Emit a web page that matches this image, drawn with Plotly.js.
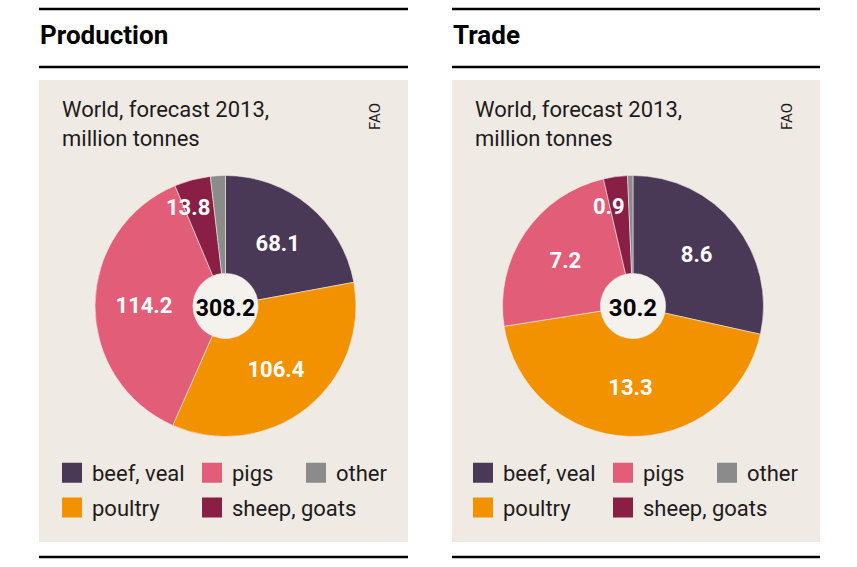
<!DOCTYPE html>
<html><head><meta charset="utf-8">
<script src="https://cdn.plot.ly/plotly-3.0.1.min.js"></script>
<style>html,body{margin:0;padding:0;background:#fff}#chart{width:857px;height:567px}</style>
</head><body><div id="chart"></div>
<script>
// ---- data ----
const categories = ['beef, veal', 'poultry', 'pigs', 'sheep, goats', 'other'];
const productionValues = [68.1, 106.4, 114.2, 13.8, 5.7];
const tradeValues = [8.6, 13.3, 7.2, 0.9, 0.2];
const sliceColors = ['#4a3857', '#f39200', '#e25d78', '#8a1f46', '#8b8b8b'];
const panelTitles = ['Production', 'Trade'];
const subtitleText = 'World, forecast 2013,<br>million tonnes';
const sourceText = 'FAO';
const legendColumns = [['beef, veal', 'poultry'], ['pigs', 'sheep, goats'], ['other']];
const unlabelled = ['other'];
const sideLabelled = ['sheep, goats'];   // narrow slice: label set beside its edge

// ---- layout helpers ----
const W = 857, H = 567;
const px = x => x / W, py = y => 1 - y / H;
const FONT = 'Roboto, "Liberation Sans", sans-serif';
const BG = '#efeae4';
const INK = '#1e1b1c';
const R = 130.5, HOLE = 0.25;
const LABEL_SIZE = 22;
const panels = [
  {x0: 39, x1: 408, cx: 225.5, cy: 306, values: productionValues, title: panelTitles[0], legendX: [62, 202, 306]},
  {x0: 452, x1: 820, cx: 633, cy: 306, values: tradeValues, title: panelTitles[1], legendX: [473, 613, 717]}
];

const traces = [];
const shapes = [];
const annotations = [];
const layout = {
  width: W, height: H,
  margin: {l: 0, r: 0, t: 0, b: 0},
  paper_bgcolor: '#ffffff', plot_bgcolor: 'rgba(0,0,0,0)',
  xaxis: {visible: false, range: [0, 1]}, yaxis: {visible: false, range: [0, 1]},
  font: {family: FONT, color: INK},
  uniformtext: {mode: 'show', minsize: LABEL_SIZE},
  shapes, annotations
};

let legendIndex = 0;
panels.forEach((p, pi) => {
  const total = p.values.reduce((a, b) => a + b, 0);
  traces.push({
    type: 'pie',
    labels: categories,
    values: p.values,
    text: p.values.map((v, i) => (unlabelled.includes(categories[i]) || sideLabelled.includes(categories[i])) ? '' : v.toFixed(1)),
    textinfo: 'text',
    textposition: 'inside',
    insidetextorientation: 'horizontal',
    textfont: {family: FONT, size: LABEL_SIZE, color: '#ffffff', weight: 'bold'},
    marker: {colors: sliceColors, line: {color: BG, width: 0.6}},
    hole: HOLE,
    sort: false,
    direction: 'clockwise',
    rotation: 0,
    showlegend: false,
    hoverinfo: 'label+value',
    title: {text: total.toFixed(1), position: 'middle center', font: {family: FONT, size: 24, color: '#000000', weight: 'bold'}},
    domain: {x: [px(p.cx - R), px(p.cx + R)], y: [py(p.cy + R), py(p.cy - R)]}
  });
  // labels of narrow slices: right-aligned against the slice's clockwise edge
  let cum = 0;
  p.values.forEach((v, i) => {
    cum += v;
    if (!sideLabelled.includes(categories[i])) return;
    const theta = 2 * Math.PI * cum / total;
    const r = 0.76 * R;
    const x = p.cx + r * Math.sin(theta), y = p.cy - r * Math.cos(theta);
    annotations.push({xref: 'paper', yref: 'paper', x: px(x - 2), y: py(y), xanchor: 'right', yanchor: 'middle', showarrow: false,
      text: v.toFixed(1), font: {family: FONT, size: LABEL_SIZE, color: '#ffffff', weight: 'bold'}});
  });
  // panel decorations
  shapes.push({type: 'rect', xref: 'paper', yref: 'paper', layer: 'below', x0: px(p.x0), x1: px(p.x1), y0: py(542), y1: py(80), fillcolor: BG, line: {width: 0}});
  [9, 67, 557].forEach(y => shapes.push({type: 'line', xref: 'paper', yref: 'paper', x0: px(p.x0), x1: px(p.x1), y0: py(y), y1: py(y), line: {color: '#000', width: 2.5}}));
  shapes.push({type: 'circle', xref: 'paper', yref: 'paper', layer: 'below', x0: px(p.cx - R * HOLE), x1: px(p.cx + R * HOLE), y0: py(p.cy + R * HOLE), y1: py(p.cy - R * HOLE), fillcolor: '#f5f2ee', line: {width: 0}});
  annotations.push({xref: 'paper', yref: 'paper', x: px(p.x0 - 1), y: py(35), xanchor: 'left', yanchor: 'middle', showarrow: false, text: p.title, font: {size: 26, color: '#000', weight: 'bold'}});
  annotations.push({xref: 'paper', yref: 'paper', x: px(p.x0 + 21), y: py(95), xanchor: 'left', yanchor: 'top', align: 'left', showarrow: false, text: subtitleText, font: {size: 22, color: INK}});
  annotations.push({xref: 'paper', yref: 'paper', x: px(p.x1 - 33), y: py(117), xanchor: 'center', yanchor: 'middle', textangle: -90, showarrow: false, text: sourceText, font: {size: 15, color: INK}});
  // legend columns
  legendColumns.forEach((col, ci) => {
    legendIndex++;
    const lid = legendIndex === 1 ? 'legend' : 'legend' + legendIndex;
    layout[lid] = {x: px(p.legendX[ci] - 10), y: py(452), xanchor: 'left', yanchor: 'top', orientation: 'v', bgcolor: 'rgba(0,0,0,0)', borderwidth: 0, tracegroupgap: 3, font: {family: FONT, size: 22, color: INK}};
    col.forEach(name => {
      const k = categories.indexOf(name);
      traces.push({type: 'scatter', x: [null], y: [null], mode: 'markers', name: name, legend: lid, legendgroup: lid + name, hoverinfo: 'skip',
        marker: {symbol: 'square', size: 16, color: sliceColors[k], line: {color: sliceColors[k], width: 4}}});
    });
  });
});

Plotly.newPlot('chart', traces, layout, {displayModeBar: false, staticPlot: true});
</script>
</body></html>
